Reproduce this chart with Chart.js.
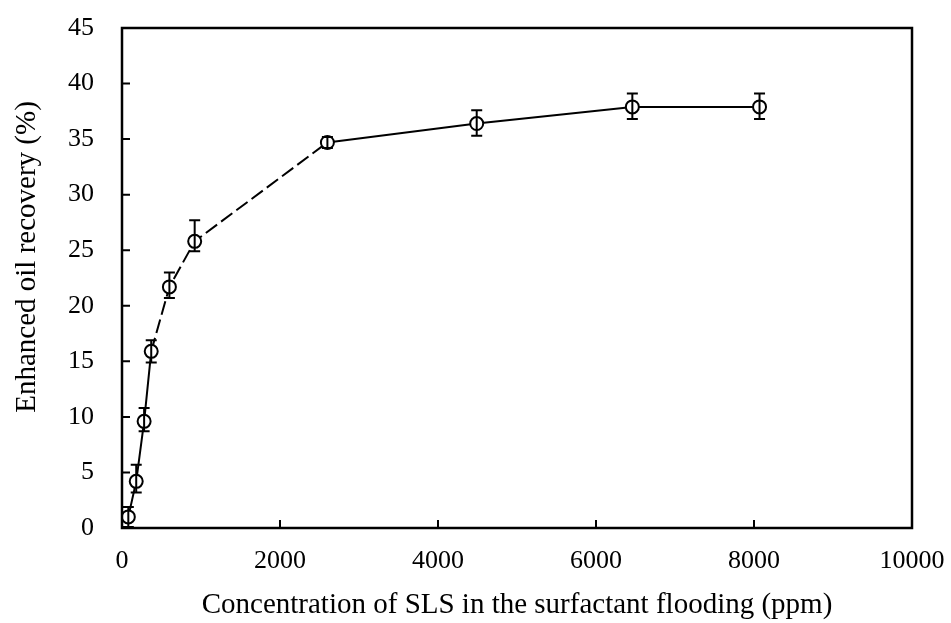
<!DOCTYPE html>
<html>
<head>
<meta charset="utf-8">
<script src="https://cdn.jsdelivr.net/npm/chart.js@4.4.1/dist/chart.umd.min.js"></script>
<style>
  html, body { margin: 0; padding: 0; background: #fff; }
  #wrap { width: 951px; height: 623px; }
</style>
</head>
<body>
<div id="wrap"><canvas id="sls_chart" width="951" height="623"></canvas></div>
<script>
// SLS concentration (ppm) vs enhanced oil recovery (%)
const concentration = [80, 180, 280, 370, 600, 920, 2600, 4490, 6460, 8070];
const recovery      = [1.0, 4.2, 9.6, 15.9, 21.7, 25.8, 34.7, 36.4, 37.9, 37.9];
const errUp         = [0.9, 1.5, 1.2, 1.0, 1.3, 1.9, 0.5, 1.2, 1.2, 1.2];
const errDown       = [0.9, 1.0, 0.9, 1.0, 1.0, 0.9, 0.5, 1.1, 1.1, 1.1];
const xTicks = [0, 2000, 4000, 6000, 8000, 10000];
const yTicks = [0, 5, 10, 15, 20, 25, 30, 35, 40, 45];
const dashedSegments = [3, 4, 5]; // segment index (starting point) drawn with long dashes
const yTitle = 'Enhanced oil recovery (%)';

const serif = "'Liberation Serif', 'Times New Roman', serif";

// frame, inward tick marks, error bars and the y title
const framePlugin = {
    id: 'frame',
    afterDatasetsDraw(chart) {
        const ctx = chart.ctx;
        const a = chart.chartArea;
        const xs = chart.scales.x, ys = chart.scales.y;
        ctx.save();
        ctx.strokeStyle = '#000';
        ctx.lineWidth = 2;

        // error bars
        const meta = chart.getDatasetMeta(0);
        meta.data.forEach(function (pt, i) {
            const yTop = ys.getPixelForValue(recovery[i] + errUp[i]);
            const yBot = ys.getPixelForValue(recovery[i] - errDown[i]);
            const x = pt.x;
            ctx.beginPath();
            ctx.moveTo(x, yTop); ctx.lineTo(x, yBot);
            ctx.moveTo(x - 5.5, yTop); ctx.lineTo(x + 5.5, yTop);
            ctx.moveTo(x - 5.5, yBot); ctx.lineTo(x + 5.5, yBot);
            ctx.stroke();
        });

        // box
        ctx.lineWidth = 2.5;
        ctx.strokeRect(a.left, a.top, a.right - a.left, a.bottom - a.top);

        // inward ticks
        ctx.lineWidth = 2;
        ctx.beginPath();
        xTicks.slice(1, -1).forEach(function (v) {
            const px = xs.getPixelForValue(v);
            ctx.moveTo(px, a.bottom); ctx.lineTo(px, a.bottom - 8);
        });
        yTicks.slice(1, -1).forEach(function (v) {
            const py = ys.getPixelForValue(v);
            ctx.moveTo(a.left, py); ctx.lineTo(a.left + 8, py);
        });
        ctx.stroke();

        // y title
        ctx.translate(27, 257);
        ctx.rotate(-Math.PI / 2);
        ctx.fillStyle = '#000';
        ctx.font = '29px ' + serif;
        ctx.textAlign = 'center';
        ctx.textBaseline = 'middle';
        ctx.fillText(yTitle, 0, 0);
        ctx.restore();
    }
};

const points = concentration.map(function (c, i) { return { x: c, y: recovery[i] }; });

new Chart(document.getElementById('sls_chart').getContext('2d'), {
    type: 'line',
    data: {
        datasets: [{
            data: points,
            borderColor: '#000',
            borderWidth: 2,
            pointRadius: 6.5,
            pointBorderWidth: 2,
            pointBackgroundColor: '#fff',
            pointBorderColor: '#000',
            tension: 0,
            segment: {
                borderDash: function (ctx) {
                    return dashedSegments.indexOf(ctx.p0DataIndex) >= 0 ? [14, 5] : undefined;
                }
            }
        }]
    },
    options: {
        responsive: false,
        animation: false,
        events: [],
        layout: { padding: { top: 28, right: 39, left: 0, bottom: 0 } },
        plugins: { legend: { display: false }, tooltip: { enabled: false } },
        scales: {
            x: {
                type: 'linear',
                min: 0,
                max: 10000,
                afterBuildTicks: function (s) { s.ticks = xTicks.map(function (v) { return { value: v }; }); },
                afterFit: function (s) {
                    s.height = 95;
                    s.paddingLeft = 0; s.paddingRight = 0;
                },
                grid: { display: false },
                border: { display: false },
                ticks: {
                    color: '#000',
                    padding: 10,
                    maxRotation: 0,
                    font: { family: serif, size: 26 },
                    callback: function (v) { return String(v); }
                },
                title: {
                    display: true,
                    text: 'Concentration of SLS in the surfactant flooding (ppm)',
                    color: '#000',
                    padding: { top: 0, bottom: 0 },
                    font: { family: serif, size: 29 }
                }
            },
            y: {
                min: 0,
                max: 45,
                afterBuildTicks: function (s) { s.ticks = yTicks.map(function (v) { return { value: v }; }); },
                afterFit: function (s) {
                    s.width = 122;
                    s.paddingTop = 0; s.paddingBottom = 0;
                },
                grid: { display: false },
                border: { display: false },
                ticks: {
                    color: '#000',
                    padding: 20,
                    font: { family: serif, size: 26 }
                }
            }
        }
    },
    plugins: [framePlugin]
});
</script>
</body>
</html>
